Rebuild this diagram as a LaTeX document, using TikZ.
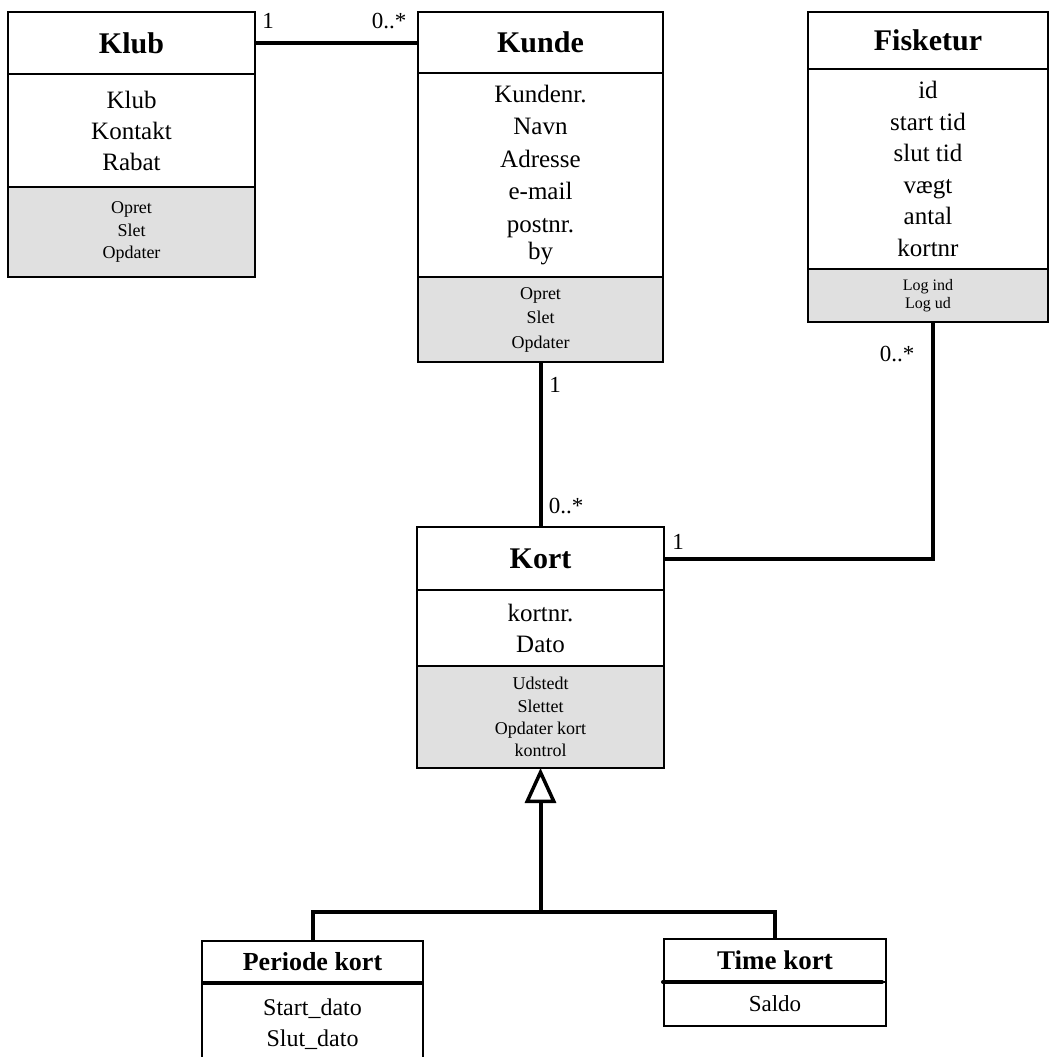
\documentclass[tikz,border=0pt]{standalone}
\usepackage{fontspec}
\setmainfont{Liberation Serif}
\usetikzlibrary{arrows.meta}
\definecolor{opsgrey}{HTML}{E0E0E0}
\tikzset{
  box/.style={draw, line width=2pt, anchor=north west, inner sep=0pt, outer sep=0pt, align=center},
  titlebox/.style={box, font=\bfseries\fontsize{30}{36}\selectfont},
  subtitlebox/.style={box, font=\bfseries\fontsize{26}{30}\selectfont},
  attrbox/.style={box, font=\fontsize{25}{32}\selectfont},
  opsbox/.style={box, fill=opsgrey, font=\fontsize{18}{22.5}\selectfont},
  conn/.style={line width=4pt},
  sepline/.style={line width=4pt},
  mult/.style={font=\fontsize{23}{26}\selectfont, inner sep=0pt},
}
\begin{document}
\begin{tikzpicture}[x=1pt,y=-1pt]
\clip (0,0) rectangle (1050,1057);
\fill[white] (0,0) rectangle (1050,1057);

% Klub
\node[titlebox, minimum width=247pt, minimum height=62pt] (klubT) at (8,12) {Klub};
\node[attrbox, minimum width=247pt, minimum height=113pt, font=\fontsize{25}{31}\selectfont] (klubA) at (klubT.south west) {Klub\\Kontakt\\Rabat};
\node[opsbox, minimum width=247pt, minimum height=90pt] (klubO) at (klubA.south west) {Opret\\Slet\\Opdater};

% Kunde
\node[titlebox, minimum width=245pt, minimum height=61pt] (kundeT) at (418,12) {Kunde};
\node[attrbox, minimum width=245pt, minimum height=204pt, font=\fontsize{25}{32.5}\selectfont] (kundeA) at (kundeT.south west) {Kundenr.\\Navn\\Adresse\\e-mail\\postnr.\\[-5pt]by};
\node[opsbox, minimum width=245pt, minimum height=85pt, font=\fontsize{18}{24.5}\selectfont] (kundeO) at (kundeA.south west) {Opret\\Slet\\Opdater};

% Fisketur
\node[titlebox, minimum width=240pt, minimum height=57pt] (fiskT) at (808,12) {Fisketur};
\node[attrbox, minimum width=240pt, minimum height=200pt, font=\fontsize{25}{31.6}\selectfont] (fiskA) at (fiskT.south west) {id\\start tid\\slut tid\\vægt\\antal\\kortnr};
\node[opsbox, minimum width=240pt, minimum height=53pt, font=\fontsize{16}{18}\selectfont] (fiskO) at (fiskA.south west) {Log ind\\Log ud};

% Kort
\node[titlebox, minimum width=247pt, minimum height=63pt] (kortT) at (417,527) {Kort};
\node[attrbox, minimum width=247pt, minimum height=76pt, font=\fontsize{25}{31}\selectfont] (kortA) at (kortT.south west) {kortnr.\\Dato};
\node[opsbox, minimum width=247pt, minimum height=102pt, font=\fontsize{18}{22.3}\selectfont] (kortO) at (kortA.south west) {Udstedt\\Slettet\\Opdater kort\\kontrol};

% Periode kort
\node[subtitlebox, minimum width=221pt, minimum height=42pt] (periodeT) at (202,941) {Periode kort};
\node[box, minimum width=221pt, minimum height=100pt] (periodeA) at (periodeT.south west) {};
\node[font=\fontsize{24}{31}\selectfont, align=center, inner sep=0pt] (periodeTxt) at (312.5,1024) {Start\_dato\\Slut\_dato};
\draw[sepline] (periodeT.south west) -- (periodeT.south east);

% Time kort
\node[subtitlebox, minimum width=222pt, minimum height=43pt, font=\bfseries\fontsize{27}{30}\selectfont] (timeT) at (664,939) {Time kort};
\node[box, minimum width=222pt, minimum height=44pt, font=\fontsize{23}{28}\selectfont] (timeA) at (timeT.south west) {Saldo};
\draw[sepline, line cap=round] ([xshift=-1pt]timeT.south west) -- ([xshift=-4pt]timeT.south east);

% Associations
\draw[conn] (klubT.east) -- (klubT.east -| kundeT.west);
\draw[conn] (kundeO.south) -- (kortT.north);
\draw[conn] (kortT.east) -| ([xshift=5pt]fiskO.south);

% Generalization
\coordinate (junc) at (kortO.south |- 0,912);
\draw[conn] (periodeT.north) |- (junc) -| (timeT.north);
\draw[conn, -{Triangle[open, length=35pt, width=31pt, line width=3.5pt]}] (junc) -- (kortO.south);

% Multiplicities
\node[mult] (mKlub) at (268,21) {1};
\node[mult] (mKundeK) at (389,21) {0..*};
\node[mult] (mKundeB) at (555,385) {1};
\node[mult] (mKortT) at (566,506) {0..*};
\node[mult] (mKortR) at (678,542) {1};
\node[mult] (mFisk) at (897,354) {0..*};
\end{tikzpicture}
\end{document}
